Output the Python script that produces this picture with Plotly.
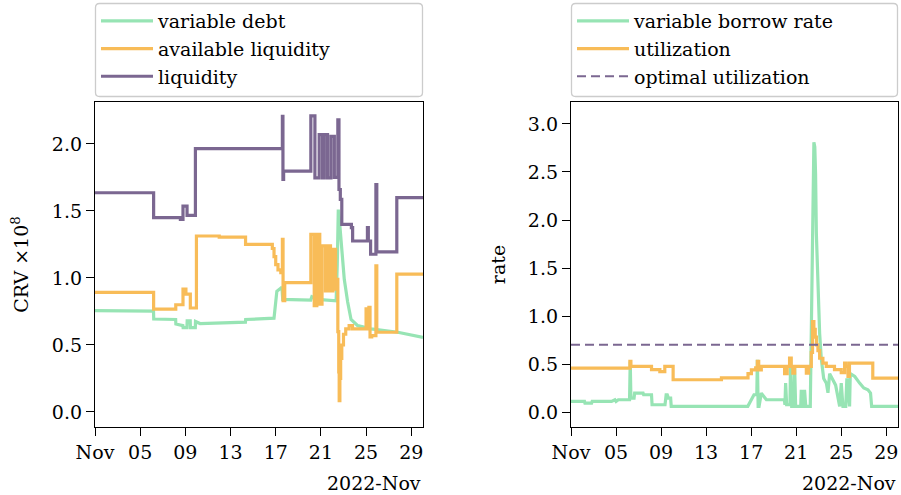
import pandas as pd
import plotly.graph_objects as go

W, H = 901, 495
START = pd.Timestamp("2022-11-01")
END_DAYS = 29.04

# ---------------- left panel: CRV x 1e8, days since Nov 1 ----------------
liq_days = [0, 5.19, 7.56, 7.79, 8.15, 8.89, 16.59, 16.64, 16.70, 19.11, 19.47, 19.85,
            20.15, 20.30, 20.59, 20.89, 21.19, 21.50, 21.60, 21.72, 21.85, 22.70, 22.81,
            24.12, 24.20, 24.40, 24.87, 24.95, 26.72, 29.04]
liq_vals = [1.636, 1.45, 1.437, 1.536, 1.467, 1.965, 2.205, 1.735, 1.797, 2.21, 1.747, 2.069,
            1.747, 2.069, 1.747, 2.057, 1.75, 2.18, 1.66, 1.586, 1.40, 1.375, 1.276,
            1.375, 1.276, 1.177, 1.697, 1.195, 1.599, 1.59]

avail_days = [0, 5.19, 7.15, 7.79, 8.05, 8.44, 8.98, 11.0, 13.33, 15.70, 15.85, 16.00,
              16.20, 16.45, 16.59, 16.65, 16.80, 19.11, 19.41, 19.64, 19.90, 20.10, 20.40,
              20.60, 20.85, 21.07, 21.30, 21.42, 21.50, 21.58, 21.62, 21.68, 21.75, 21.85,
              22.00, 22.20, 22.50, 22.80, 24.00, 24.10, 24.25, 24.35, 24.50, 24.87, 24.95,
              26.72, 29.04]
avail_vals = [0.892, 0.768, 0.80, 0.917, 0.88, 0.776, 1.313, 1.305, 1.251, 1.22, 1.16, 1.10,
              1.06, 1.04, 1.288, 0.83, 0.966, 1.326, 0.793, 1.326, 0.805, 1.239, 0.904,
              1.239, 0.904, 1.214, 0.917, 0.99, 0.60, 0.30, 0.085, 0.25, 0.40, 0.50,
              0.58, 0.62, 0.644, 0.62, 0.77, 0.62, 0.78, 0.56, 0.57, 1.09, 0.595,
              1.028, 1.035]

debt_days = [0, 5.18, 5.20, 7.14, 7.16, 7.78, 7.80, 8.14, 8.16, 8.43, 8.45, 8.88, 8.90,
             9.30, 13.32, 13.34, 15.85, 16.10, 16.55, 16.62, 19.10, 19.20, 19.70, 21.35,
             21.45, 21.54, 21.62, 21.78, 22.07, 22.37, 22.67, 23.26, 24.44, 26.81, 29.04]
debt_vals = [0.756, 0.752, 0.694, 0.69, 0.656, 0.644, 0.63, 0.63, 0.68, 0.68, 0.63, 0.63,
             0.675, 0.66, 0.67, 0.69, 0.70, 0.90, 0.93, 0.84, 0.835, 0.86, 0.84, 0.83,
             1.10, 1.51, 1.45, 1.29, 0.99, 0.82, 0.69, 0.644, 0.62, 0.595, 0.557]

# ---------------- right panel: rates ----------------
util_days = [0, 5.23, 5.32, 7.15, 7.89, 8.33, 9.07, 13.36, 15.72, 16.02, 16.40, 16.55,
             16.67, 16.90, 18.97, 19.20, 19.41, 19.56, 19.70, 19.86, 20.90, 21.10, 21.34,
             21.45, 21.57, 21.69, 21.80, 21.93, 22.08, 22.37, 22.67, 23.40, 24.00, 24.30,
             24.44, 24.60, 24.73, 26.80, 29.04]
util_vals = [0.458, 0.527, 0.475, 0.441, 0.42, 0.475, 0.336, 0.355, 0.40, 0.44, 0.46, 0.527,
             0.44, 0.475, 0.40, 0.475, 0.561, 0.475, 0.406, 0.475, 0.406, 0.475, 0.62,
             0.943, 0.86, 0.78, 0.70, 0.64, 0.56, 0.51, 0.475, 0.441, 0.41, 0.51,
             0.475, 0.371, 0.51, 0.354, 0.354]

rate_days = [0, 1.20, 1.24, 1.83, 1.88, 3.60, 3.90, 4.00, 4.20, 5.20, 5.26, 5.32, 5.60,
             5.65, 6.40, 6.45, 7.15, 7.20, 8.35, 8.45, 8.55, 8.65, 8.85, 8.90, 15.70,
             16.00, 16.25, 16.50, 16.55, 16.62, 16.70, 16.90, 17.35, 18.95, 19.00, 19.06,
             19.15, 19.45, 19.50, 19.60, 19.80, 19.86, 19.95, 20.40, 20.45, 20.55, 20.70,
             20.74, 20.85, 21.25, 21.35, 21.40, 21.57, 21.65, 21.72, 21.79, 21.94, 22.08,
             22.23, 22.44, 22.68, 22.82, 22.97, 23.20, 23.50, 23.86, 24.00, 24.15, 24.40,
             24.50, 24.74, 24.80, 25.20, 25.63, 26.00, 26.37, 26.60, 26.70, 29.04]
rate_vals = [0.11, 0.11, 0.093, 0.093, 0.11, 0.11, 0.128, 0.11, 0.128, 0.128, 0.527, 0.145,
             0.145, 0.197, 0.197, 0.18, 0.18, 0.076, 0.076, 0.18, 0.18, 0.145, 0.145, 0.059,
             0.059, 0.128, 0.18, 0.18, 0.544, 0.059, 0.059, 0.197, 0.128, 0.128, 0.076,
             0.301, 0.076, 0.076, 0.561, 0.059, 0.059, 0.475, 0.059, 0.059, 0.232, 0.059,
             0.059, 0.232, 0.059, 0.059, 0.82, 1.48, 2.81, 2.76, 2.48, 1.86, 1.17, 0.82,
             0.55, 0.35, 0.30, 0.20, 0.40, 0.35, 0.28, 0.059, 0.30, 0.059, 0.059, 0.35,
             0.059, 0.40, 0.37, 0.301, 0.25, 0.232, 0.197, 0.059, 0.059]

opt_util = 0.70

tick_days = [0, 4, 8, 12, 16, 20, 24, 28]
tick_text = ["Nov", "05", "09", "13", "17", "21", "25", "29"]

GREEN = "#97e4b4"
ORANGE = "#f8bc58"
PURPLE = "#7b6791"
FONT = "DejaVu Serif"
FS = 19
LW = 3.2


def to_time(days):
    return START + pd.to_timedelta(days, unit="D")


fig = go.Figure()

fig.add_trace(go.Scatter(x=to_time(debt_days), y=debt_vals, mode="lines", name="variable debt",
                         line=dict(color=GREEN, width=LW), legend="legend", legendgroup="a"))
fig.add_trace(go.Scatter(x=to_time(avail_days), y=avail_vals, mode="lines", name="available liquidity",
                         line=dict(color=ORANGE, width=LW, shape="hv"), legend="legend", legendgroup="b"))
fig.add_trace(go.Scatter(x=to_time(liq_days), y=liq_vals, mode="lines", name="liquidity",
                         line=dict(color=PURPLE, width=LW, shape="hv"), legend="legend", legendgroup="c"))

fig.add_trace(go.Scatter(x=to_time(rate_days), y=rate_vals, mode="lines", name="variable borrow rate",
                         line=dict(color=GREEN, width=LW), xaxis="x2", yaxis="y2",
                         legend="legend2", legendgroup="d"))
fig.add_trace(go.Scatter(x=to_time(util_days), y=util_vals, mode="lines", name="utilization",
                         line=dict(color=ORANGE, width=LW, shape="hv"), xaxis="x2", yaxis="y2",
                         legend="legend2", legendgroup="e"))
fig.add_trace(go.Scatter(x=to_time([0, END_DAYS]), y=[opt_util, opt_util], mode="lines",
                         name="optimal utilization", line=dict(color=PURPLE, width=2, dash="9px,5px"),
                         xaxis="x2", yaxis="y2", legend="legend2", legendgroup="f"))

x_range = [START, to_time(END_DAYS)]
y_dom = [1 - 427 / H, 1 - 102 / H]

axis_common = dict(showline=True, linecolor="black", linewidth=1.3, mirror=True, ticks="outside",
                   ticklen=8, tickwidth=1.3, tickcolor="black", showgrid=False, zeroline=False,
                   automargin=False, tickfont=dict(family=FONT, size=FS, color="black"))

fig.update_layout(
    width=W, height=H, template="none",
    margin=dict(l=0, r=0, t=0, b=0),
    paper_bgcolor="white", plot_bgcolor="white",
    font=dict(family=FONT, size=FS, color="black"),
    xaxis=dict(domain=[95 / W, 423 / W], range=x_range, tickvals=to_time(tick_days),
               ticktext=tick_text, anchor="y", **axis_common),
    yaxis=dict(domain=y_dom, range=[-0.112, 2.313], tickvals=[0, 0.5, 1, 1.5, 2],
               ticktext=["0.0", "0.5", "1.0", "1.5", "2.0"], anchor="x",
               title=dict(text="CRV ×10<sup>8</sup>", standoff=18, font=dict(family=FONT, size=FS)),
               **axis_common),
    xaxis2=dict(domain=[571 / W, 898 / W], range=x_range, tickvals=to_time(tick_days),
                ticktext=tick_text, anchor="y2", **axis_common),
    yaxis2=dict(domain=y_dom, range=[-0.156, 3.229], tickvals=[0, 0.5, 1, 1.5, 2, 2.5, 3],
                ticktext=["0.0", "0.5", "1.0", "1.5", "2.0", "2.5", "3.0"], anchor="x2",
                title=dict(text="rate", standoff=17, font=dict(family=FONT, size=FS)),
                **axis_common),
    legend=dict(x=96 / W, y=1 - 2 / H, xanchor="left", yanchor="top", bgcolor="rgba(0,0,0,0)",
                borderwidth=0, itemwidth=52, tracegroupgap=0, font=dict(family=FONT, size=FS)),
    legend2=dict(x=572 / W, y=1 - 2 / H, xanchor="left", yanchor="top", bgcolor="rgba(0,0,0,0)",
                 borderwidth=0, itemwidth=52, tracegroupgap=0, font=dict(family=FONT, size=FS)),
)


def frame_path(x0, y0, x1, y1, r=4):
    # rounded rectangle in paper coordinates, pixel inputs
    fx = lambda v: v / W
    fy = lambda v: 1 - v / H
    return (f"M{fx(x0 + r)},{fy(y0)} L{fx(x1 - r)},{fy(y0)} Q{fx(x1)},{fy(y0)} {fx(x1)},{fy(y0 + r)} "
            f"L{fx(x1)},{fy(y1 - r)} Q{fx(x1)},{fy(y1)} {fx(x1 - r)},{fy(y1)} "
            f"L{fx(x0 + r)},{fy(y1)} Q{fx(x0)},{fy(y1)} {fx(x0)},{fy(y1 - r)} "
            f"L{fx(x0)},{fy(y0 + r)} Q{fx(x0)},{fy(y0)} {fx(x0 + r)},{fy(y0)} Z")


for x0, x1 in [(95.5, 422.5), (571.5, 897.5)]:
    fig.add_shape(type="path", path=frame_path(x0, 3.5, x1, 96.5), xref="paper", yref="paper",
                  line=dict(color="#cccccc", width=1.3), fillcolor="rgba(255,255,255,0.8)", layer="below")

for xa in ["x domain", "x2 domain"]:
    fig.add_annotation(text="2022-Nov", xref=xa, x=1, xanchor="right", yref="paper",
                       y=1 - 483 / H, yanchor="middle", showarrow=False,
                       font=dict(family=FONT, size=FS, color="black"))

fig.write_html("out.html", config={"displayModeBar": False},
               post_script="document.body.style.margin='0px';")
